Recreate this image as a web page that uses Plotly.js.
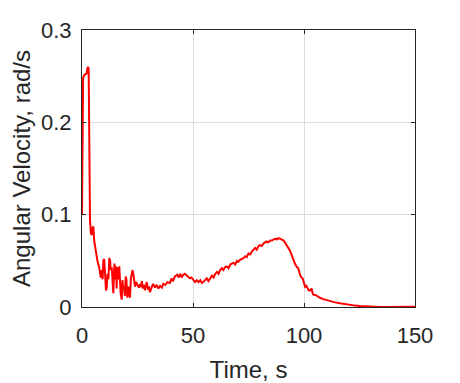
<!DOCTYPE html>
<html>
<head>
<meta charset="utf-8">
<script src="https://cdn.plot.ly/plotly-3.0.1.min.js"></script>
<style>
  html, body { margin: 0; padding: 0; background: #ffffff; }
  #chart { width: 460px; height: 383px; }
</style>
</head>
<body>
<div id="chart"></div>
<script>
// Time samples, s
const timeS = [
  0, 0.15, 0.5, 1.0, 1.6, 2.1, 2.4, 2.7, 3.0, 3.3, 3.6, 4.0, 4.4, 4.8, 5.1, 5.5, 5.9, 6.3, 6.8, 7.3,
  7.7, 8.1, 8.5, 8.9, 9.3, 9.6, 10.0, 10.4, 10.8, 11.1, 11.5, 11.9, 12.3, 12.7, 12.9, 13.4, 13.8, 14.1, 14.6, 15.0,
  15.3, 15.6, 15.9, 16.3, 16.8, 17.4, 17.9, 18.2, 18.6, 18.9, 19.3, 19.7, 20.0, 20.4, 20.9, 21.3, 21.6, 22.0, 22.7, 23.1,
  23.5, 23.9, 24.4, 24.9, 25.4, 25.8, 26.2, 26.6, 27.0, 27.3, 27.8, 28.4, 29.1, 29.7, 30.2, 30.6, 31.2, 32.0, 32.9, 33.6,
  34.4, 35.2, 36.0, 36.6, 37.5, 38.5, 39.6, 40.3, 41.0, 41.8, 42.9, 43.6, 44.3, 44.9, 45.6, 46.4, 47.2, 47.8, 48.6, 49.3,
  50.0, 50.9, 51.7, 52.5, 53.3, 54.0, 54.6, 55.3, 56.2, 57.0, 57.8, 58.5, 59.3, 60.0, 60.8, 61.5, 62.2, 63.0, 63.7, 64.4,
  65.2, 66.0, 66.8, 67.5, 68.2, 69.0, 69.8, 70.5, 71.2, 72.0, 72.8, 73.5, 74.2, 75.0, 75.8, 76.5, 77.2, 78.0, 78.7, 79.5,
  80.2, 81.0, 81.8, 82.5, 83.2, 84.0, 84.8, 85.5, 86.2, 87.0, 87.7, 88.4, 89.2, 90.0, 90.8, 91.4, 92.0, 92.8, 93.7, 94.5,
  95.2, 95.9, 96.6, 97.4, 98.2, 98.8, 99.4, 100.0, 100.5, 101.0, 101.6, 102.2, 102.7, 103.4, 104.0, 104.6, 105.2, 105.7, 106.5, 107.2,
  108.7, 110.0, 111.7, 114.0, 116.2, 118.5, 120.7, 123.0, 125.2, 127.5, 129.7, 132.0, 134.0, 137.0, 140.0, 143.0, 146.0, 150.0
];

// Angular velocity, rad/s
const angVel = [
  0.100, 0.200, 0.248, 0.251, 0.252, 0.253, 0.258, 0.260, 0.258, 0.170, 0.094, 0.080, 0.078, 0.086, 0.087, 0.072, 0.064, 0.060, 0.052, 0.046,
  0.044, 0.037, 0.032, 0.040, 0.030, 0.050, 0.052, 0.035, 0.018, 0.020, 0.036, 0.030, 0.053, 0.050, 0.040, 0.043, 0.025, 0.015, 0.047, 0.030,
  0.044, 0.020, 0.043, 0.030, 0.044, 0.015, 0.008, 0.029, 0.020, 0.022, 0.012, 0.033, 0.030, 0.010, 0.022, 0.012, 0.010, 0.030, 0.040, 0.036,
  0.028, 0.022, 0.027, 0.024, 0.022, 0.021, 0.025, 0.022, 0.028, 0.020, 0.024, 0.018, 0.027, 0.020, 0.021, 0.016, 0.020, 0.025, 0.021, 0.024,
  0.020, 0.023, 0.021, 0.025, 0.024, 0.027, 0.026, 0.031, 0.028, 0.033, 0.035, 0.032, 0.036, 0.032, 0.035, 0.036, 0.034, 0.033, 0.031, 0.032,
  0.030, 0.027, 0.029, 0.027, 0.029, 0.026, 0.027, 0.029, 0.031, 0.028, 0.032, 0.034, 0.032, 0.036, 0.038, 0.036, 0.040, 0.042, 0.040, 0.043,
  0.044, 0.042, 0.046, 0.047, 0.048, 0.046, 0.050, 0.049, 0.051, 0.052, 0.053, 0.055, 0.054, 0.058, 0.057, 0.060, 0.062, 0.064, 0.062, 0.066,
  0.067, 0.066, 0.069, 0.070, 0.071, 0.070, 0.072, 0.072, 0.073, 0.074, 0.073, 0.0745, 0.074, 0.073, 0.072, 0.070, 0.068, 0.065, 0.061, 0.056,
  0.051, 0.047, 0.044, 0.042, 0.035, 0.032, 0.031, 0.026, 0.022, 0.023, 0.021, 0.018, 0.018, 0.020, 0.014, 0.013, 0.013, 0.012, 0.011, 0.010,
  0.0085, 0.0075, 0.0065, 0.005, 0.004, 0.003, 0.0022, 0.0015, 0.001, 0.0006, 0.0003, 0.0001, 0.0, 0.0, 0.0, 0.0001, 0.0002, 0.0003
];

const xTicks = [0, 50, 100, 150];
const yTicks = [0, 0.1, 0.2, 0.3];

const axisColor = '#262626';
const gridColor = '#dcdcdc';

const trace = {
  x: timeS,
  y: angVel,
  type: 'scatter',
  mode: 'lines',
  line: { color: '#ff0000', width: 2 },
  showlegend: false
};

const layout = {
  width: 460,
  height: 383,
  margin: { l: 82, r: 45, t: 30, b: 76 },
  paper_bgcolor: '#ffffff',
  plot_bgcolor: '#ffffff',
  font: { family: 'Liberation Sans, Arial, sans-serif', color: axisColor },
  xaxis: {
    range: [0, 150],
    tickvals: xTicks,
    ticktext: xTicks.map(String),
    ticks: 'inside',
    ticklen: 4,
    tickcolor: axisColor,
    tickfont: { size: 22, color: axisColor },
    ticklabelstandoff: 9,
    showline: true,
    linecolor: axisColor,
    linewidth: 1,
    mirror: 'ticks',
    showgrid: true,
    gridcolor: gridColor,
    zeroline: false,
    title: { text: 'Time, s', font: { size: 24, color: axisColor }, standoff: 14 }
  },
  yaxis: {
    range: [0, 0.3],
    tickvals: yTicks,
    ticktext: ['0', '0.1', '0.2', '0.3'],
    ticks: 'inside',
    ticklen: 4,
    tickcolor: axisColor,
    tickfont: { size: 22, color: axisColor },
    ticklabelstandoff: 5,
    showline: true,
    linecolor: axisColor,
    linewidth: 1,
    mirror: 'ticks',
    showgrid: true,
    gridcolor: gridColor,
    zeroline: false,
    title: { text: 'Angular Velocity, rad/s', font: { size: 24, color: axisColor }, standoff: 3 }
  }
};

Plotly.newPlot('chart', [trace], layout, { displayModeBar: false, staticPlot: true });
</script>
</body>
</html>
